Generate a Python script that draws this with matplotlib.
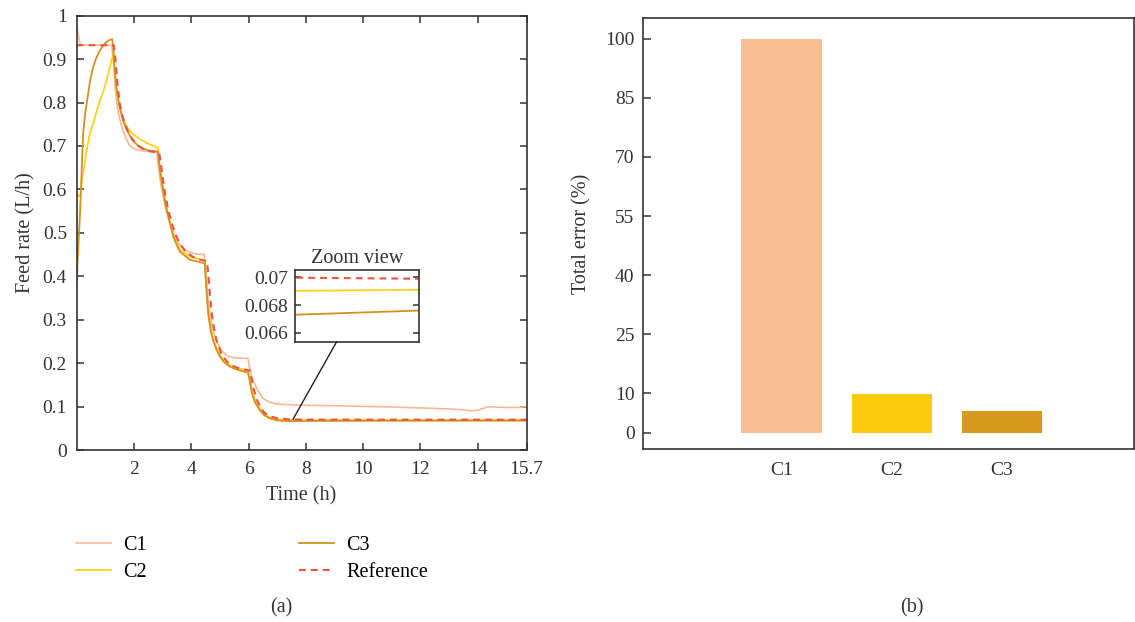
import matplotlib
matplotlib.use("Agg")
import matplotlib.pyplot as plt
from matplotlib.patches import ConnectionPatch

plt.rcParams['font.family'] = ['Liberation Serif', 'DejaVu Serif']
plt.rcParams['font.size'] = 14

# feed rate curves (time in h, feed rate in L/h)
ref_t = [0.0, 1.30, 1.36, 1.42, 1.50, 1.60, 1.75, 1.90, 2.10, 2.35, 2.60, 2.88,
         2.94, 3.02, 3.10, 3.20, 3.32, 3.45, 3.60, 3.80, 4.05, 4.30, 4.55,
         4.60, 4.66, 4.75, 4.88, 5.05, 5.25, 5.50, 5.75, 6.05,
         6.10, 6.18, 6.28, 6.40, 6.55, 6.74, 7.00, 7.40, 8.00, 15.7]
ref_v = [0.932, 0.932, 0.895, 0.845, 0.800, 0.768, 0.740, 0.720, 0.703, 0.692, 0.687, 0.685,
         0.660, 0.620, 0.585, 0.553, 0.522, 0.497, 0.475, 0.457, 0.445, 0.438, 0.435,
         0.400, 0.350, 0.295, 0.253, 0.222, 0.203, 0.192, 0.186, 0.183,
         0.165, 0.140, 0.118, 0.100, 0.086, 0.078, 0.073, 0.0705, 0.0700, 0.0699]

c1_t = [0.0, 0.05, 0.12, 0.20, 1.22, 1.28, 1.35, 1.42, 1.51, 1.62, 1.75, 1.86, 2.05, 2.40, 2.80,
        2.84, 2.92, 3.00, 3.10, 3.22, 3.38, 3.60, 3.85, 4.10, 4.45,
        4.50, 4.57, 4.66, 4.76, 4.90, 5.05, 5.25, 5.50, 5.98,
        6.02, 6.10, 6.16, 6.30, 6.50, 6.70, 6.97, 7.5, 8.0, 9.0, 10.0, 11.0, 12.0,
        13.0, 13.5, 13.75, 14.0, 14.2, 14.35, 15.0, 15.4, 15.7]
c1_v = [0.979, 0.960, 0.936, 0.932, 0.932, 0.900, 0.830, 0.790, 0.760, 0.735, 0.714, 0.700, 0.692, 0.688, 0.687,
        0.660, 0.620, 0.590, 0.560, 0.530, 0.500, 0.472, 0.458, 0.452, 0.450,
        0.420, 0.360, 0.310, 0.275, 0.248, 0.230, 0.217, 0.212, 0.211,
        0.195, 0.172, 0.161, 0.140, 0.119, 0.111, 0.106, 0.104, 0.103, 0.102, 0.1005, 0.099, 0.097,
        0.0945, 0.0925, 0.0905, 0.0915, 0.096, 0.0995, 0.098, 0.098, 0.100]

c2_t = [0.0, 0.06, 0.12, 0.20, 0.35, 0.45, 0.58, 0.70, 0.82, 0.95, 1.05, 1.15, 1.22, 1.27,
        1.32, 1.40, 1.50, 1.62, 1.75, 1.95, 2.21, 2.50, 2.84,
        2.88, 2.94, 3.02, 3.10, 3.20, 3.37, 3.60, 3.95, 4.47,
        4.52, 4.59, 4.68, 4.76, 4.88, 5.00, 5.15, 5.35, 5.60, 5.98,
        6.04, 6.12, 6.22, 6.39, 6.55, 6.74, 7.00, 7.32, 8.0, 15.7]
c2_v = [0.595, 0.585, 0.583, 0.625, 0.690, 0.725, 0.752, 0.780, 0.806, 0.830, 0.852, 0.878, 0.898, 0.907,
        0.875, 0.821, 0.788, 0.763, 0.744, 0.728, 0.716, 0.705, 0.696,
        0.670, 0.637, 0.602, 0.570, 0.541, 0.496, 0.462, 0.445, 0.437,
        0.385, 0.320, 0.280, 0.258, 0.235, 0.219, 0.206, 0.196, 0.189, 0.183,
        0.163, 0.138, 0.116, 0.095, 0.083, 0.075, 0.0705, 0.0690, 0.0690, 0.0691]

c3_t = [0.0, 0.06, 0.12, 0.18, 0.23, 0.30, 0.37, 0.47, 0.58, 0.70, 0.82, 0.95, 1.05, 1.15, 1.24,
        1.28, 1.33, 1.40, 1.50, 1.62, 1.75, 1.95, 2.21, 2.50, 2.84,
        2.88, 2.94, 3.02, 3.10, 3.20, 3.37, 3.60, 3.95, 4.47,
        4.52, 4.59, 4.68, 4.76, 4.88, 5.00, 5.15, 5.35, 5.60, 5.98,
        6.04, 6.12, 6.22, 6.39, 6.55, 6.74, 7.00, 7.32, 8.0, 10.0, 15.7]
c3_v = [0.384, 0.470, 0.545, 0.650, 0.730, 0.775, 0.806, 0.850, 0.883, 0.905, 0.921, 0.933, 0.940, 0.944, 0.946,
        0.925, 0.875, 0.829, 0.790, 0.758, 0.737, 0.713, 0.697, 0.690, 0.687,
        0.660, 0.630, 0.599, 0.565, 0.537, 0.491, 0.457, 0.438, 0.430,
        0.380, 0.315, 0.275, 0.253, 0.231, 0.215, 0.202, 0.192, 0.185, 0.178,
        0.160, 0.130, 0.110, 0.092, 0.080, 0.073, 0.068, 0.0665, 0.0670, 0.0673, 0.0676]

# total error bars
bar_names = ['C1', 'C2', 'C3']
bar_vals = [100, 9.8, 5.4]

xticks_a = [2, 4, 6, 8, 10, 12, 14, 15.7]
xtick_labels_a = ['2', '4', '6', '8', '10', '12', '14', '15.7']
yticks_a = [0, 0.1, 0.2, 0.3, 0.4, 0.5, 0.6, 0.7, 0.8, 0.9, 1]
ytick_labels_a = ['0', '0.1', '0.2', '0.3', '0.4', '0.5', '0.6', '0.7', '0.8', '0.9', '1']
yticks_ins = [0.066, 0.068, 0.07]
ytick_labels_ins = ['0.066', '0.068', '0.07']
yticks_b = [0, 10, 25, 40, 55, 70, 85, 100]

col_c1 = '#F7B995'
col_c2 = '#FFD21A'
col_c3 = '#D4911F'
col_ref = '#EA5442'
bar_cols = ['#F9BE91', '#FDCA0D', '#D9991C']
dark = '#333333'
lab_fs = 14.5
tick_fs = 14

fig = plt.figure(figsize=(11.35, 6.22), dpi=100)

ax = fig.add_axes([0.0675, 0.2765, 0.3964, 0.6983])
ax.plot(c1_t, c1_v, color=col_c1, lw=1.2, label='C1')
ax.plot(c2_t, c2_v, color=col_c2, lw=1.3, label='C2')
ax.plot(c3_t, c3_v, color=col_c3, lw=1.3, label='C3')
ax.plot(ref_t, ref_v, color=col_ref, lw=1.5, ls=(0, (3.3, 2.4)), label='Reference')
ax.set_xlim(0, 15.7)
ax.set_ylim(0, 1)
ax.set_xticks(xticks_a)
ax.set_xticklabels(xtick_labels_a)
ax.set_yticks(yticks_a)
ax.set_yticklabels(ytick_labels_a)
ax.tick_params(direction='in', top=True, right=True, length=5, width=1.1, colors=dark, labelsize=tick_fs)
ax.tick_params(axis='x', pad=8)
ax.tick_params(axis='y', pad=7)
ax.set_xlabel('Time (h)', fontsize=lab_fs, color=dark, labelpad=6)
ax.set_ylabel('Feed rate (L/h)', fontsize=lab_fs, color=dark, labelpad=5)
for s in ax.spines.values():
    s.set_color(dark)
    s.set_linewidth(1.2)

# zoom view inset
ins = fig.add_axes([0.2599, 0.4506, 0.1093, 0.1153])
ins.plot(c2_t, c2_v, color=col_c2, lw=1.3)
ins.plot(c3_t, c3_v, color=col_c3, lw=1.3)
ins.plot(ref_t, ref_v, color=col_ref, lw=1.5, ls=(0, (3.3, 2.4)))
ins.set_xlim(10, 15.7)
ins.set_ylim(0.06535, 0.07053)
ins.set_xticks([])
ins.set_yticks(yticks_ins)
ins.set_yticklabels(ytick_labels_ins)
ins.tick_params(axis='y', direction='in', right=True, length=4, width=1.1, colors=dark, labelsize=tick_fs, pad=5)
ins.set_title('Zoom view', fontsize=lab_fs, color=dark, pad=5)
for s in ins.spines.values():
    s.set_color(dark)
    s.set_linewidth(1.2)

con = ConnectionPatch(xyA=(0.336, 0), coordsA=ins.transAxes,
                      xyB=(7.55, 0.0707), coordsB=ax.transData,
                      color='#222222', lw=1.0)
fig.add_artist(con)

fig.legend(loc='center left', bbox_to_anchor=(0.067, 0.1015), ncol=2, frameon=False,
           fontsize=lab_fs, handlelength=1.74, handletextpad=0.58, columnspacing=7.6,
           labelspacing=0.38, borderpad=0, borderaxespad=0)

# total error bar chart
bx = fig.add_axes([0.5664, 0.2777, 0.4327, 0.6929])
bx.bar(range(len(bar_names)), bar_vals, width=0.73, color=bar_cols)
bx.set_xlim(-1.257, 3.196)
bx.set_ylim(-4.2, 105.2)
bx.set_xticks(range(len(bar_names)))
bx.set_xticklabels(bar_names)
bx.set_yticks(yticks_b)
bx.tick_params(axis='y', direction='in', length=5.5, width=1.1, colors=dark, labelsize=tick_fs, pad=6)
bx.tick_params(axis='x', length=0, colors=dark, labelsize=tick_fs, pad=9)
bx.set_ylabel('Total error (%)', fontsize=lab_fs, color=dark, labelpad=10)
for s in bx.spines.values():
    s.set_color(dark)
    s.set_linewidth(1.2)

fig.text(281.7 / 1135, 1 - 608 / 622, '(a)', ha='center', va='center', fontsize=lab_fs, color=dark)
fig.text(912 / 1135, 1 - 608 / 622, '(b)', ha='center', va='center', fontsize=lab_fs, color=dark)

fig.savefig('out.png', dpi=100)
